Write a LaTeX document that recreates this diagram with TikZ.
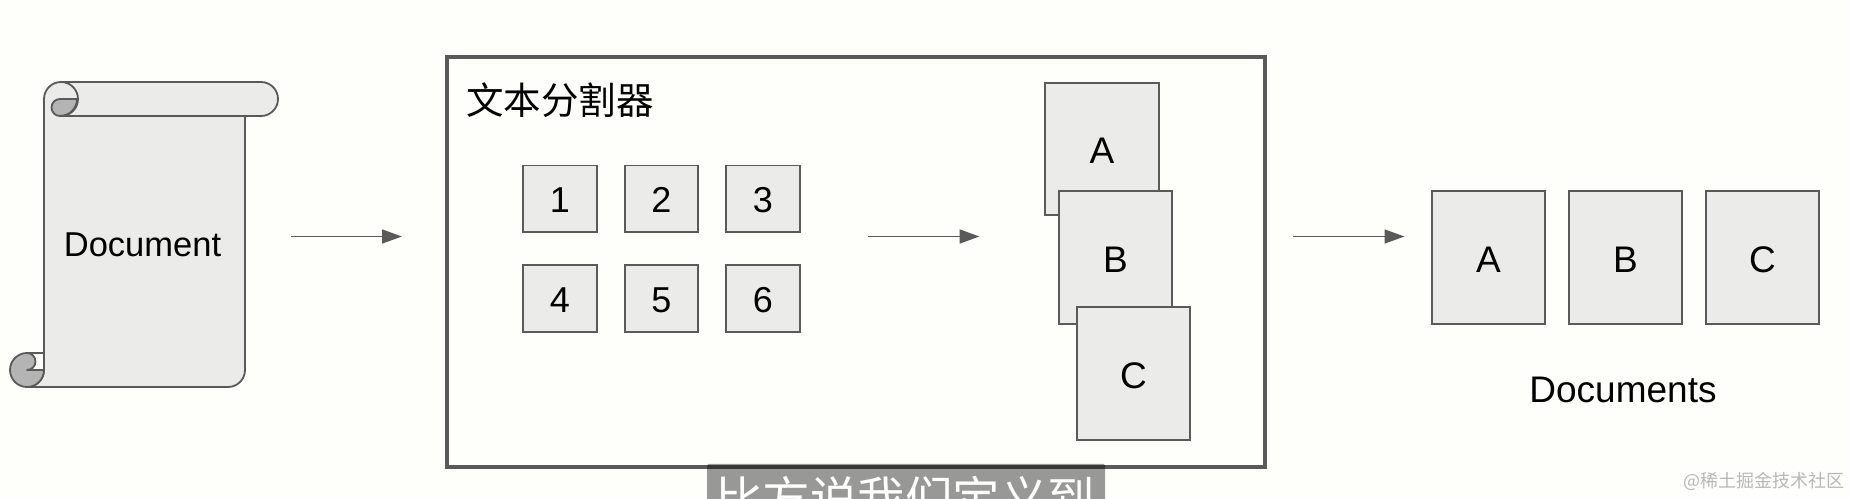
\documentclass[tikz,border=0pt]{standalone}
\usepackage{fontspec}
\setmainfont{Liberation Sans}
\newfontfamily\cjk{Noto Sans CJK SC}
\usetikzlibrary{arrows.meta}
\definecolor{pagebg}{HTML}{FEFEFB}
\definecolor{boxfill}{HTML}{EBEBE9}
\definecolor{boxline}{HTML}{5A5A5A}
\definecolor{curlfill}{HTML}{B4B4B4}
\definecolor{wmark}{HTML}{B8B8B8}
\tikzset{
  x=1pt,y=1pt,
  smallbox/.style={draw=boxline,fill=boxfill,line width=1.8pt,minimum width=73.5pt,minimum height=66.5pt,inner sep=0pt,text height=28.2pt,text depth=0pt,font=\fontsize{36}{40}\selectfont},
  bigbox/.style={draw=boxline,fill=boxfill,line width=1.8pt,minimum width=113.5pt,minimum height=132.5pt,inner sep=0pt,text height=29.4pt,text depth=0pt,font=\fontsize{37}{40}\selectfont},
  scrollline/.style={draw=boxline,line width=1.8pt,line join=round},
  flowarrow/.style={draw=boxline,line width=1.7pt,-{Stealth[length=20pt,width=14pt,inset=0pt]}},
}
\begin{document}
\begin{tikzpicture}
\useasboundingbox (0,0) rectangle (1850,498);
\fill[pagebg] (0,0) rectangle (1850,498);
% scroll
\path[scrollline,fill=boxfill] (44,128) -- (44,399) arc[start angle=180,end angle=90,radius=17] -- (261,416) arc[start angle=90,end angle=-90,radius=17] -- (245,382) -- (245,128) arc[start angle=0,end angle=-90,radius=17] -- (27,111) arc[start angle=-90,end angle=0,radius=17] -- cycle;
\path[scrollline,fill=curlfill] (77,399) arc[start angle=0,end angle=-90,radius=17] arc[start angle=270,end angle=90,radius=8.5] -- cycle;
\path[scrollline] (61,416) arc[start angle=90,end angle=-90,radius=17] -- (261,382);
\path[scrollline,fill=curlfill] (27,145) arc[start angle=90,end angle=270,radius=17] arc[start angle=-90,end angle=0,radius=17] -- (27,128) arc[start angle=-90,end angle=90,radius=8.5] -- cycle;
\path[scrollline] (27,145) -- (44,145);
\node[inner sep=0pt,font=\fontsize{34.5}{38}\selectfont] (doc) at (142.5,253) {Document};
% frame
\node[draw=boxline,line width=3.6pt,minimum width=818pt,minimum height=410pt,inner sep=0pt] (frame) at (856,236) {};
\node[inner sep=0pt,font=\cjk\fontsize{37.5}{40}\selectfont] (title) at (560,398) {文本分割器};
\node[smallbox] (n1) at (560,299.2) {1};
\node[smallbox] (n2) at (661.5,299.2) {2};
\node[smallbox] (n3) at (763,299.2) {3};
\node[smallbox] (n4) at (560,199.5) {4};
\node[smallbox] (n5) at (661.5,199.5) {5};
\node[smallbox] (n6) at (763,199.5) {6};
\node[bigbox] (sa) at (1102,349) {A};
\node[bigbox] (sb) at (1115.5,240.5) {B};
\node[bigbox] (sc) at (1133.5,124.5) {C};
\node[bigbox] (da) at (1488.5,240.5) {A};
\node[bigbox] (db) at (1625.5,240.5) {B};
\node[bigbox] (dc) at (1762.5,240.5) {C};
\node[inner sep=0pt,font=\fontsize{37}{40}\selectfont] (docs) at (1623,108) {Documents};
% arrows
\coordinate (a1s) at (291,261.5); \coordinate (a1e) at (402,261.5);
\coordinate (a2s) at (868,261.5); \coordinate (a2e) at (979.5,261.5);
\coordinate (a3s) at (1293,261.5); \coordinate (a3e) at (1404.5,261.5);
\draw[flowarrow] (a1s) -- (a1e);
\draw[flowarrow] (a2s) -- (a2e);
\draw[flowarrow] (a3s) -- (a3e);
% caption and watermark
\begin{scope}
\clip (0,0) rectangle (1850,498);
\fill[black,opacity=.4,rounded corners=1.5pt] (707,-10) rectangle (1105,34);
\node[anchor=base,inner sep=0pt,text=white,font=\cjk\fontsize{47.5}{50}\selectfont] (cap) at (905,-18) {比方说我们定义到};
\end{scope}
\node[inner sep=0pt,text=wmark,font=\cjk\fontsize{18}{20}\selectfont] (wm) at (1764,17) {@稀土掘金技术社区};
\end{tikzpicture}
\end{document}
